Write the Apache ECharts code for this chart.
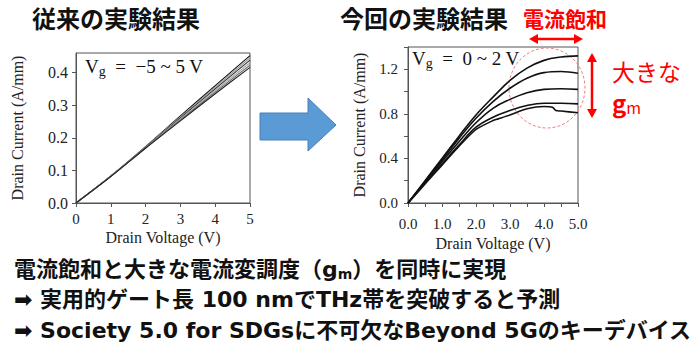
<!DOCTYPE html>
<html style="height: 100%">
<head>
    <meta charset="utf-8">
</head>
<body style="height: 100%; margin: 0; background: #fff">
    <div id="container" style="width: 700px; height: 352px"></div>
    <script src="https://cdn.jsdelivr.net/npm/echarts@6/dist/echarts.min.js"></script>
    <script type="text/javascript">
        // 従来の実験結果 (left): Vd and Id for Vg = -5 ~ 5 V
        var oldVd = [0, 1, 2, 3, 4, 5];
        var oldId = [
            [0, 0.083, 0.173, 0.267, 0.360, 0.452],
            [0, 0.083, 0.172, 0.264, 0.355, 0.445],
            [0, 0.082, 0.171, 0.261, 0.350, 0.438],
            [0, 0.082, 0.170, 0.258, 0.345, 0.430],
            [0, 0.082, 0.169, 0.255, 0.340, 0.423],
            [0, 0.081, 0.168, 0.252, 0.335, 0.416]
        ];
        var oldColors = ['#111', '#999', '#333', '#aaa', '#666', '#222'];

        // 今回の実験結果 (right): Vg = 0 ~ 2 V
        var newVd = [0, 0.5, 1, 1.5, 2, 2.5, 3, 3.5, 4, 4.5, 5];
        var newId = [
            [0, 0.20, 0.40, 0.60, 0.79, 0.95, 1.10, 1.21, 1.28, 1.31, 1.32],
            [0, 0.19, 0.385, 0.58, 0.76, 0.91, 1.03, 1.12, 1.17, 1.18, 1.165],
            [0, 0.185, 0.37, 0.55, 0.72, 0.85, 0.93, 0.99, 1.02, 1.025, 1.02],
            [0, 0.175, 0.35, 0.52, 0.68, 0.77, 0.83, 0.875, 0.895, 0.895, 0.89]
        ];
        var lowVd = [0, 0.5, 1, 1.5, 2, 2.5, 2.65, 3, 3.5, 4, 4.25, 4.35, 4.5, 5];
        var lowId = [0, 0.17, 0.34, 0.51, 0.66, 0.74, 0.755, 0.79, 0.845, 0.866, 0.86, 0.83, 0.825, 0.81];

        var titleOld = '従来の実験結果';
        var titleNew = '今回の実験結果';
        var noteLines = [
            '電流飽和と大きな電流変調度（{g|g}{m|m}）を同時に実現',
            '➡ 実用的ゲート長 100 nmでTHz帯を突破すると予測',
            '➡ Society 5.0 for SDGsに不可欠なBeyond 5Gのキーデバイス'
        ];

        function zip(xs, ys) {
            return xs.map(function (x, i) { return [x, ys[i]]; });
        }

        var dom = document.getElementById('container');
        var myChart = echarts.init(dom, null, { renderer: 'svg' });

        var serif = 'Liberation Serif';
        var jp = 'Noto Sans CJK JP';
        var noteFont = 'bold 22px "DejaVu Sans", "Noto Sans CJK JP"';
        var axisNameStyle = { fontFamily: serif, fontSize: 16, color: '#222' };

        var series = [];
        oldId.forEach(function (ys, i) {
            series.push({
                type: 'line', xAxisIndex: 0, yAxisIndex: 0, data: zip(oldVd, ys),
                showSymbol: false, smooth: 0.3,
                lineStyle: { color: oldColors[i], width: 1.1 }
            });
        });
        newId.forEach(function (ys) {
            series.push({
                type: 'line', xAxisIndex: 1, yAxisIndex: 1, data: zip(newVd, ys),
                showSymbol: false, smooth: 0.4,
                lineStyle: { color: '#111', width: 1.6 }
            });
        });
        series.push({
            type: 'line', xAxisIndex: 1, yAxisIndex: 1, data: zip(lowVd, lowId),
            showSymbol: false, smooth: 0.2,
            lineStyle: { color: '#111', width: 1.6 }
        });

        var vgRich = {
            a: { fontFamily: serif, fontSize: 19, fill: '#111' },
            b: { fontFamily: serif, fontSize: 14, fill: '#111', padding: [9, 0, 0, 0] }
        };

        var option = {
            animation: false,
            backgroundColor: '#fff',
            grid: [
                { left: 76, right: 450, top: 53, bottom: 149, show: true, borderColor: '#555', borderWidth: 1 },
                { left: 408, right: 122, top: 47, bottom: 149, show: true, borderColor: '#555', borderWidth: 1 }
            ],
            xAxis: [{
                gridIndex: 0, type: 'value', min: 0, max: 5, interval: 1,
                name: 'Drain Voltage (V)', nameLocation: 'middle', nameGap: 26, nameTextStyle: axisNameStyle,
                axisLine: { lineStyle: { color: '#555' } },
                axisTick: { length: 4, lineStyle: { color: '#555' } },
                axisLabel: { margin: 8, fontFamily: serif, fontSize: 15, color: '#222' },
                splitLine: { show: false }
            }, {
                gridIndex: 1, type: 'value', min: 0, max: 5, interval: 0.5,
                name: 'Drain Voltage (V)', nameLocation: 'middle', nameGap: 32, nameTextStyle: axisNameStyle,
                axisLine: { lineStyle: { color: '#555' } },
                axisTick: { length: 4, lineStyle: { color: '#555' } },
                axisLabel: {
                    margin: 13, fontFamily: serif, fontSize: 15, color: '#222',
                    formatter: function (v) { return Number.isInteger(v) ? v.toFixed(1) : ''; }
                },
                splitLine: { show: false }
            }],
            yAxis: [{
                gridIndex: 0, type: 'value', min: 0, max: 0.46, interval: 0.1,
                name: 'Drain Current (A/mm)', nameLocation: 'middle', nameGap: 51, nameTextStyle: axisNameStyle,
                axisLine: { show: true, lineStyle: { color: '#555' } },
                axisTick: { show: true, length: 4, lineStyle: { color: '#555' } },
                axisLabel: {
                    margin: 8, showMaxLabel: false, fontFamily: serif, fontSize: 16, color: '#222',
                    formatter: function (v) { return v.toFixed(1); }
                },
                splitLine: { show: false }
            }, {
                gridIndex: 1, type: 'value', min: 0, max: 1.4, interval: 0.2,
                name: 'Drain Current (A/mm)', nameLocation: 'middle', nameGap: 41, nameTextStyle: axisNameStyle,
                axisLine: { show: true, lineStyle: { color: '#555' } },
                axisTick: { show: true, length: 4, lineStyle: { color: '#555' } },
                axisLabel: {
                    margin: 10, fontFamily: serif, fontSize: 15, color: '#222',
                    formatter: function (v) { return Math.round(v * 10) % 4 === 0 ? v.toFixed(1) : ''; }
                },
                splitLine: { show: false }
            }],
            series: series,
            graphic: [
                // titles
                { type: 'text', left: 32, top: 5, style: { text: titleOld, font: 'bold 24px "' + jp + '"', fill: '#111' } },
                { type: 'text', left: 340, top: 5, style: { text: titleNew, font: 'bold 24px "' + jp + '"', fill: '#111' } },
                { type: 'text', left: 523, top: 7, style: { text: '電流飽和', font: 'bold 21px "' + jp + '"', fill: '#ff0000' } },
                // Vg labels
                { type: 'text', left: 85, top: 57, style: { text: '{a|V}{b|g}{a|  =  −5 ~ 5 V}', rich: vgRich } },
                { type: 'text', left: 412, top: 49, style: { text: '{a|V}{b|g}{a|  =  0 ~ 2 V}', rich: vgRich } },
                // blue arrow
                {
                    type: 'polygon', shape: { points: [[260, 113], [308, 113], [308, 98], [336, 125], [308, 151], [308, 140], [260, 140]] },
                    style: { fill: '#5b9bd5', stroke: '#4a7ebb', lineWidth: 1 }
                },
                // dashed circle
                {
                    type: 'ellipse', shape: { cx: 547, cy: 88, rx: 38, ry: 40 },
                    style: { fill: 'none', stroke: '#f08080', lineWidth: 1, lineDash: [3, 2] }
                },
                // red horizontal double arrow
                { type: 'line', shape: { x1: 536, y1: 39, x2: 576, y2: 39 }, style: { stroke: '#ff0000', lineWidth: 2.5 } },
                { type: 'polygon', shape: { points: [[529, 39], [538, 34], [538, 44]] }, style: { fill: '#ff0000' } },
                { type: 'polygon', shape: { points: [[583, 39], [574, 34], [574, 44]] }, style: { fill: '#ff0000' } },
                // red vertical double arrow
                { type: 'line', shape: { x1: 592, y1: 60, x2: 592, y2: 111 }, style: { stroke: '#ff0000', lineWidth: 2.5 } },
                { type: 'polygon', shape: { points: [[592, 53], [587, 62], [597, 62]] }, style: { fill: '#ff0000' } },
                { type: 'polygon', shape: { points: [[592, 118], [587, 109], [597, 109]] }, style: { fill: '#ff0000' } },
                // 大きな gm
                { type: 'text', left: 612, top: 59, style: { text: '大きな', font: '23px "' + jp + '"', fill: '#ff0000' } },
                {
                    type: 'text', left: 612, top: 90, style: {
                        text: '{g|g}{m|m}',
                        rich: { g: { fontFamily: jp, fontSize: 24, fontWeight: 'bold', fill: '#ff0000' }, m: { fontFamily: jp, fontSize: 16, fill: '#ff0000', padding: [10, 0, 0, 0] } }
                    }
                },
                // bottom notes
                {
                    type: 'text', left: 14, top: 258, style: {
                        text: noteLines[0],
                        rich: {
                            g: { fontFamily: 'DejaVu Sans', fontSize: 22, fontWeight: 'bold', fill: '#111' },
                            m: { fontFamily: 'DejaVu Sans', fontSize: 14, fontWeight: 'bold', fill: '#111', padding: [9, 0, 0, 0] }
                        },
                        font: noteFont, fill: '#111'
                    }
                },
                { type: 'text', left: 14, top: 288, style: { text: noteLines[1], font: noteFont, fill: '#111' } },
                { type: 'text', left: 14, top: 319, style: { text: noteLines[2], font: noteFont, fill: '#111' } }
            ]
        };

        myChart.setOption(option);
    </script>
</body>
</html>
